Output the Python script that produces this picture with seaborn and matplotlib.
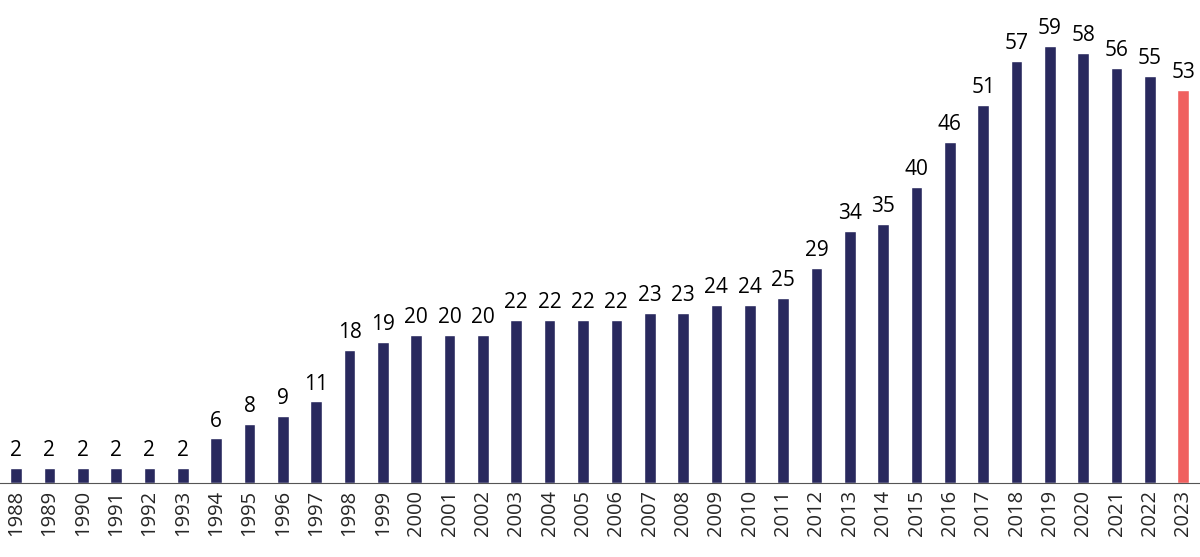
import pandas as pd
import matplotlib.pyplot as plt
import seaborn as sns

years = [str(y) for y in range(1988, 2024)]
values = [2, 2, 2, 2, 2, 2, 6, 8, 9, 11, 18, 19, 20, 20, 20, 22, 22, 22,
          22, 23, 23, 24, 24, 25, 29, 34, 35, 40, 46, 51, 57, 59, 58, 56, 55, 53]

navy = '#29295e'
red = '#f0605f'


def main():
    df = pd.DataFrame({'year': years, 'value': values})
    palette = {y: navy for y in years}
    palette['2023'] = red

    sns.set_style('white')
    plt.rcParams['font.family'] = ['Open Sans', 'DejaVu Sans']

    fig = plt.figure(figsize=(12, 5.57), dpi=100)
    ax = fig.add_axes([0, 0.133, 1, 0.867])
    sns.barplot(data=df, x='year', y='value', hue='year', palette=palette,
                width=0.35, dodge=False, legend=False, saturation=1, ax=ax)

    for c in ax.containers:
        ax.bar_label(c, fmt='%d', padding=5, fontsize=15, color='black')

    ax.set_xlim(-0.48, 35.5)
    ax.set_ylim(0, 65.2)
    ax.set_xlabel('')
    ax.set_ylabel('')
    ax.set_yticks([])
    ax.tick_params(axis='x', labelrotation=90, labelsize=14.5, length=0, pad=5)
    for s in ['top', 'right', 'left']:
        ax.spines[s].set_visible(False)
    ax.spines['bottom'].set_color('#555555')
    ax.spines['bottom'].set_linewidth(0.8)

    fig.savefig('out.png', dpi=100)
    plt.close(fig)


if __name__ == "__main__":
    main()
